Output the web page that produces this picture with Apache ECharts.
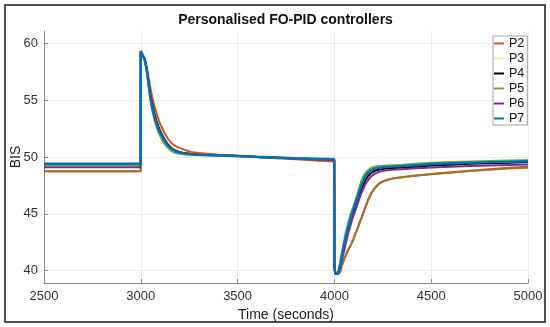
<!DOCTYPE html>
<html>
<head>
<meta charset="utf-8">
<script src="https://cdn.jsdelivr.net/npm/echarts@6/dist/echarts.min.js"></script>
<style>
html,body{margin:0;padding:0;background:#fff;}
#chart{width:550px;height:327px;}
</style>
</head>
<body>
<div id="chart"></div>
<script>
// ---- data ----
const times = [2500,2999,3000,3005,3010,3020,3030,3040,3050,3060,3070,3080,3090,3100,3120,3140,3160,3180,3200,3230,3260,3300,3400,3500,3600,3700,3800,3900,3999,
  4000,4005,4010,4020,4030,4040,4050,4060,4070,4080,4090,4100,4110,4120,4130,4140,4150,4160,4175,4190,4210,4230,4250,4275,4300,4350,4400,4500,4600,4700,4800,4900,5000];

const P2 = [48.75,48.75,59.2,59.3,59.2,58.7,58.0,57.0,56.0,55.2,54.5,53.9,53.4,52.9,52.2,51.6,51.2,50.95,50.8,50.6,50.45,50.35,50.2,50.1,50.0,49.9,49.8,49.7,49.6,
  40.4,39.8,39.65,39.7,39.9,40.5,41.0,41.4,41.8,42.1,42.45,42.85,43.3,43.75,44.2,44.65,45.1,45.6,46.25,46.8,47.3,47.65,47.85,48.0,48.1,48.22,48.32,48.5,48.65,48.8,48.93,49.05,49.15];
const P3 = [48.75,48.75,59.3,59.4,59.25,58.6,57.8,56.6,55.4,54.5,53.8,53.2,52.7,52.3,51.6,51.1,50.75,50.55,50.42,50.32,50.26,50.2,50.15,50.08,50.0,49.93,49.86,49.8,49.75,
  40.4,39.8,39.65,39.7,39.9,40.5,41.0,41.4,41.8,42.1,42.45,42.85,43.3,43.75,44.2,44.65,45.1,45.6,46.25,46.8,47.3,47.65,47.85,48.0,48.1,48.22,48.32,48.48,48.62,48.76,48.88,48.98,49.05];
const P4 = [49.3,49.3,59.3,59.4,59.25,58.6,57.8,56.6,55.4,54.5,53.8,53.2,52.7,52.3,51.6,51.1,50.75,50.55,50.42,50.32,50.26,50.2,50.15,50.08,50.0,49.93,49.86,49.8,49.75,
  40.3,39.7,39.6,39.8,40.5,41.3,42.0,42.8,43.5,44.1,44.7,45.2,45.7,46.2,46.7,47.2,47.6,47.95,48.35,48.6,48.8,48.9,48.95,49.0,49.03,49.08,49.13,49.25,49.32,49.4,49.45,49.5,49.55];
const P5 = [49.25,49.25,59.3,59.4,59.2,58.5,57.6,56.2,54.9,54.0,53.3,52.7,52.2,51.85,51.2,50.8,50.5,50.35,50.28,50.22,50.18,50.15,50.1,50.05,49.98,49.92,49.86,49.8,49.75,
  40.2,39.7,39.6,39.9,40.7,41.7,42.65,43.5,44.15,44.75,45.3,45.75,46.25,46.85,47.4,47.95,48.3,48.6,48.85,49.05,49.15,49.2,49.22,49.25,49.28,49.32,49.38,49.5,49.55,49.6,49.65,49.7,49.74];
const P6 = [49.1,49.1,59.3,59.4,59.25,58.55,57.7,56.4,55.2,54.3,53.6,53.0,52.5,52.1,51.45,51.0,50.7,50.5,50.4,50.3,50.25,50.2,50.15,50.08,50.0,49.93,49.86,49.8,49.72,
  40.3,39.7,39.6,39.8,40.4,41.0,41.7,42.5,43.2,43.8,44.4,44.9,45.4,45.9,46.4,46.85,47.25,47.6,48.0,48.3,48.55,48.7,48.78,48.83,48.87,48.93,48.98,49.08,49.15,49.2,49.25,49.3,49.35];
const P7 = [49.4,49.4,59.3,59.45,59.3,58.6,57.8,56.5,55.2,54.3,53.6,53.0,52.5,52.2,51.5,51.0,50.7,50.5,50.4,50.3,50.25,50.2,50.15,50.1,50.02,49.96,49.9,49.85,49.8,
  40.3,39.7,39.6,39.85,40.6,41.5,42.3,43.1,43.8,44.4,45.0,45.5,46.0,46.5,47.05,47.55,47.95,48.3,48.65,48.85,49.0,49.07,49.1,49.13,49.15,49.2,49.25,49.38,49.45,49.5,49.55,49.58,49.62];

const seriesNames = ['P2','P3','P4','P5','P6','P7'];
const seriesValues = [P2,P3,P4,P5,P6,P7];
const lineColors = ['#D95319','#9C7530','#000000','#77AC30','#7E2F8E','#0072BD'];
const legendColors = ['#D95319','#FFE699','#000000','#77AC30','#7E2F8E','#0072BD'];
const xTicks = [2500,3000,3500,4000,4500,5000];
const yTicks = [40,45,50,55,60];
const titleText = 'Personalised FO-PID controllers';
const xName = 'Time (seconds)';
const yName = 'BIS';

// ---- chart ----
const FONT = "'Liberation Sans', Arial, Helvetica, sans-serif";
const chart = echarts.init(document.getElementById('chart'), null, {renderer:'canvas'});

const series = seriesNames.map((n,i)=>({
  name:n, type:'line', xAxisIndex:0, yAxisIndex:0,
  data: times.map((t,j)=>[t, seriesValues[i][j]]),
  symbol:'none', showSymbol:false,
  lineStyle:{color:lineColors[i], width: i===5 ? 2.4 : 2},
  itemStyle:{color:legendColors[i]},
  animation:false
}));

chart.setOption({
  animation:false,
  backgroundColor:'#fff',
  textStyle:{fontFamily:FONT},
  title:{
    text:titleText, left:285.5, top:13, textAlign:'center', padding:0,
    textStyle:{fontFamily:FONT, fontSize:14, fontWeight:'bold', color:'#111'}
  },
  graphic:[{
    type:'rect', shape:{x:5,y:5,width:540,height:317},
    style:{fill:'none', stroke:'#1a1a1a', lineWidth:1.5}, z:100
  }],
  legend:{
    orient:'vertical', left:493, top:36,
    itemWidth:10, itemHeight:2, itemGap:2,
    padding:[1,3,0,1],
    backgroundColor:'#fff', borderColor:'#a0a0a0', borderWidth:1, borderRadius:0,
    textStyle:{fontFamily:FONT, fontSize:12.5, color:'#111', lineHeight:12},
    data: seriesNames.map((n,i)=>({name:n, icon:'rect', itemStyle:{color:legendColors[i]}, lineStyle:{color:legendColors[i]}}))
  },
  grid:[
    {left:44, right:22, top:31, bottom:44},
    {left:44, right:22, top:43.3, bottom:56.3}
  ],
  xAxis:[
    {gridIndex:0, type:'value', min:xTicks[0], max:xTicks[xTicks.length-1], interval:500,
     name:xName, nameLocation:'middle', nameGap:22,
     nameTextStyle:{fontFamily:FONT, fontSize:14, color:'#222'},
     axisLine:{show:true, lineStyle:{color:'#8c8c8c', width:1}},
     axisTick:{show:true, inside:true, length:4, lineStyle:{color:'#8c8c8c'}},
     axisLabel:{fontFamily:FONT, fontSize:13, color:'#333', margin:7, formatter:(v)=>String(v)},
     splitLine:{show:true, lineStyle:{color:'#ebebeb', width:1}}},
    {gridIndex:1, type:'value', min:xTicks[0], max:xTicks[xTicks.length-1], show:false}
  ],
  yAxis:[
    {gridIndex:0, type:'value', min:38.92, max:61.08,
     name:yName, nameLocation:'middle', nameGap:21,
     nameTextStyle:{fontFamily:FONT, fontSize:14, color:'#222'},
     axisLine:{show:true, lineStyle:{color:'#8c8c8c', width:1}},
     axisTick:{show:false}, axisLabel:{show:false}, splitLine:{show:false}},
    {gridIndex:1, type:'value', min:yTicks[0], max:yTicks[yTicks.length-1], interval:5,
     axisLine:{show:false},
     axisTick:{show:true, inside:true, length:4, lineStyle:{color:'#8c8c8c'}},
     axisLabel:{fontFamily:FONT, fontSize:13, color:'#333', margin:6},
     splitLine:{show:true, lineStyle:{color:'#ebebeb', width:1}}}
  ],
  series: series
});
</script>
</body>
</html>
